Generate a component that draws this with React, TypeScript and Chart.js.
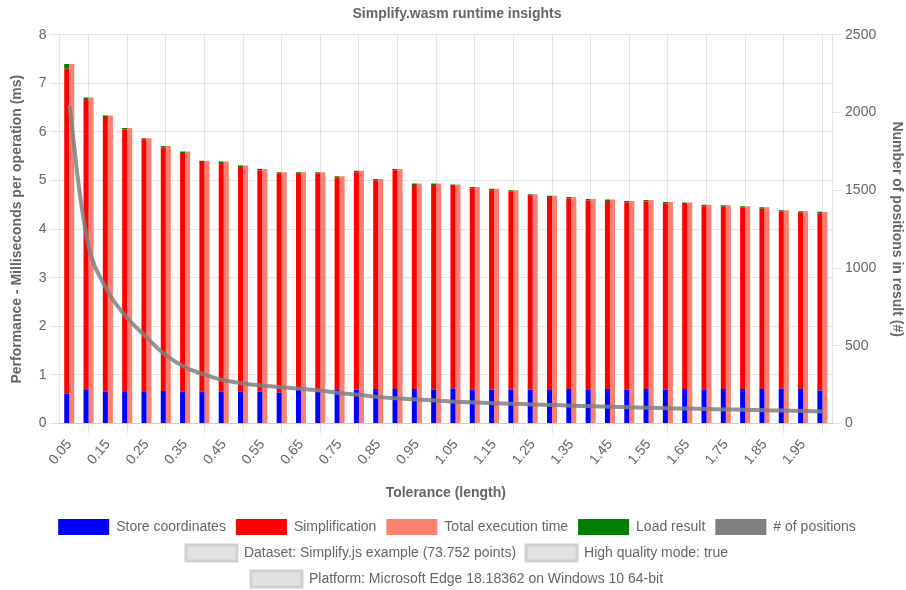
import React, { useEffect, useRef } from "react";
import { Chart, registerables } from "chart.js";

Chart.register(...registerables);

const categories = [
  "0.05", "0.10", "0.15", "0.20", "0.25", "0.30", "0.35", "0.40", "0.45", "0.50",
  "0.55", "0.60", "0.65", "0.70", "0.75", "0.80", "0.85", "0.90", "0.95", "1.00",
  "1.05", "1.10", "1.15", "1.20", "1.25", "1.30", "1.35", "1.40", "1.45", "1.50",
  "1.55", "1.60", "1.65", "1.70", "1.75", "1.80", "1.85", "1.90", "1.95", "2.00",
];

const storeCoordinates = [
  0.62, 0.69, 0.66, 0.65, 0.65, 0.67, 0.66, 0.66, 0.66, 0.66,
  0.66, 0.64, 0.70, 0.66, 0.69, 0.70, 0.71, 0.71, 0.71, 0.70,
  0.72, 0.70, 0.70, 0.70, 0.70, 0.69, 0.71, 0.69, 0.71, 0.70,
  0.71, 0.70, 0.71, 0.69, 0.71, 0.71, 0.71, 0.72, 0.71, 0.68,
];

const simplification = [
  6.68, 5.97, 5.65, 5.40, 5.19, 5.01, 4.91, 4.72, 4.70, 4.62,
  4.55, 4.50, 4.44, 4.48, 4.37, 4.47, 4.29, 4.50, 4.20, 4.21,
  4.17, 4.14, 4.10, 4.07, 3.99, 3.97, 3.92, 3.90, 3.87, 3.85,
  3.86, 3.83, 3.81, 3.78, 3.75, 3.73, 3.71, 3.64, 3.63, 3.65,
];

const loadResult = [
  0.10, 0.05, 0.03, 0.03, 0.03, 0.03, 0.03, 0.03, 0.03, 0.03,
  0.03, 0.03, 0.03, 0.03, 0.03, 0.03, 0.03, 0.03, 0.03, 0.03,
  0.03, 0.03, 0.03, 0.03, 0.03, 0.03, 0.03, 0.03, 0.03, 0.03,
  0.03, 0.03, 0.03, 0.03, 0.03, 0.03, 0.03, 0.03, 0.03, 0.03,
];

const totalExecution = [
  7.40, 6.71, 6.34, 6.08, 5.87, 5.71, 5.60, 5.41, 5.39, 5.31,
  5.24, 5.17, 5.17, 5.17, 5.09, 5.20, 5.03, 5.24, 4.94, 4.94,
  4.92, 4.87, 4.83, 4.80, 4.72, 4.69, 4.66, 4.62, 4.61, 4.58,
  4.60, 4.56, 4.55, 4.50, 4.49, 4.47, 4.45, 4.39, 4.37, 4.36,
];

const positions = [
  2045, 1140, 850, 680, 555, 440, 362, 315, 278, 258,
  244, 233, 224, 212, 196, 185, 170, 162, 155, 148,
  140, 135, 131, 127, 123, 119, 115, 112, 108, 105,
  102, 99, 96, 94, 91, 89, 86, 83, 80, 78,
];

const infoLabels = [
  "Dataset: Simplify.js example (73.752 points)",
  "High quality mode: true",
  "Platform: Microsoft Edge 18.18362 on Windows 10 64-bit",
];

const FONT = "'Liberation Sans', Arial, Helvetica, sans-serif";
const TEXT = "#666";

export default function App() {
  const ref = useRef<HTMLCanvasElement | null>(null);

  useEffect(() => {
    document.body.style.margin = "0";
    if (!ref.current) return;
    Chart.defaults.font.family = FONT;
    Chart.defaults.font.size = 14;
    Chart.defaults.color = TEXT;

    const barCommon = { categoryPercentage: 0.52, barPercentage: 1, order: 1, yAxisID: "y" };

    const chart = new Chart(ref.current, {
      type: "bar",
      data: {
        labels: categories,
        datasets: [
          { ...barCommon, label: "Store coordinates", data: storeCoordinates, backgroundColor: "blue", stack: "a" },
          { ...barCommon, label: "Simplification", data: simplification, backgroundColor: "red", stack: "a" },
          { ...barCommon, label: "Total execution time", data: totalExecution, backgroundColor: "salmon", stack: "b" },
          { ...barCommon, label: "Load result", data: loadResult, backgroundColor: "green", stack: "a" },
          {
            type: "line",
            label: "# of positions",
            data: positions,
            yAxisID: "y1",
            borderColor: "rgba(128,128,128,0.85)",
            backgroundColor: "grey",
            borderWidth: 4,
            pointRadius: 0,
            tension: 0.4,
            fill: false,
            order: 0,
          },
          ...infoLabels.map((l) => ({
            type: "line" as const,
            label: l,
            data: [] as number[],
            yAxisID: "y",
            backgroundColor: "rgba(226,226,226,1)",
            borderColor: "rgba(208,208,208,1)",
            borderWidth: 3,
            order: 2,
          })),
        ],
      } as any,
      options: {
        animation: false,
        responsive: false,
        layout: { padding: { left: 5, right: -3, top: 0, bottom: -7 } },
        plugins: {
          title: {
            display: true,
            text: "Simplify.wasm runtime insights",
            color: TEXT,
            font: { size: 14, weight: "bold" },
            padding: { top: 6, bottom: 12 },
          },
          tooltip: { enabled: false },
          legend: {
            position: "bottom",
            labels: {
              boxWidth: 51,
              boxHeight: 16,
              padding: 10,
              color: TEXT,
              font: { size: 14 },
              sort: (a: any, b: any) => a.datasetIndex - b.datasetIndex,
              generateLabels: (c: any) => {
                const items = Chart.defaults.plugins.legend.labels.generateLabels(c);
                return items.map((it: any) => {
                  if (it.datasetIndex < 5) {
                    it.lineWidth = 0;
                    it.strokeStyle = it.fillStyle;
                  }
                  return it;
                });
              },
            },
          },
        },
        scales: {
          x: {
            stacked: true,
            grid: { color: "rgba(0,0,0,0.1)", tickLength: 10, offset: true },
            ticks: { color: TEXT, font: { size: 14 }, minRotation: 50, maxRotation: 50 },
            title: {
              display: true,
              text: "Tolerance (length)",
              color: TEXT,
              font: { size: 14, weight: "bold" },
              padding: { top: 14, bottom: 7 },
            },
          },
          y: {
            stacked: true,
            position: "left",
            min: 0,
            max: 8,
            ticks: { stepSize: 1, color: TEXT, font: { size: 14 }, padding: 3 },
            grid: { color: "rgba(0,0,0,0.1)", tickLength: 10 },
            title: {
              display: true,
              text: "Performance - Milliseconds per operation (ms)",
              color: TEXT,
              font: { size: 14, weight: "bold" },
              padding: { top: 4, bottom: 10 },
            },
          },
          y1: {
            position: "right",
            min: 0,
            max: 2500,
            ticks: {
              stepSize: 500,
              color: TEXT,
              font: { size: 14 },
              padding: 3,
              callback: (v: any) => String(v),
            },
            grid: { drawOnChartArea: false, color: "rgba(0,0,0,0.1)", tickLength: 10 },
            title: {
              display: true,
              text: "Number of positions in result (#)",
              color: TEXT,
              font: { size: 14, weight: "bold" },
              padding: { top: 4, bottom: 9 },
            },
          },
        },
      } as any,
    });
    return () => chart.destroy();
  }, []);

  return <canvas ref={ref} width={906} height={590} />;
}
